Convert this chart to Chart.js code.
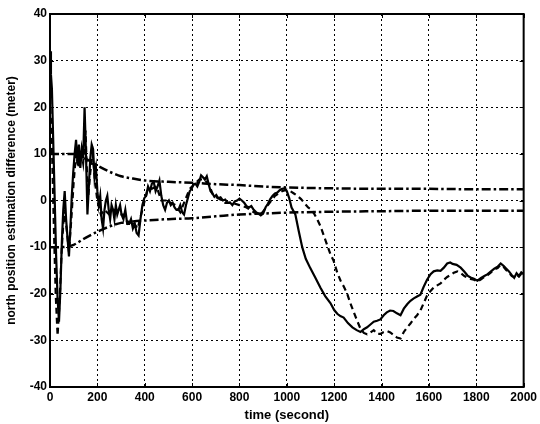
<!DOCTYPE html>
<html>
<head>
<meta charset="utf-8">
<script src="https://cdn.jsdelivr.net/npm/chart.js@4/dist/chart.umd.min.js"></script>
<style>
  html, body { margin: 0; padding: 0; background: #fff; }
  canvas { display: block; }
</style>
</head>
<body>
<canvas id="c" width="540" height="424"></canvas>
<script>
// North position estimation difference (meter) versus time (second)

const xTicks = [0, 200, 400, 600, 800, 1000, 1200, 1400, 1600, 1800, 2000];
const yTicks = [-40, -30, -20, -10, 0, 10, 20, 30, 40];

// solid curve
const solidTime = [
  0, 4, 8, 14, 20, 26, 32, 38, 44, 50, 56, 62, 68, 74, 80, 86, 92, 98, 104, 110,
  116, 122, 128, 134, 140, 146, 152, 158, 164, 170, 176, 182, 188, 194, 200, 206, 212, 218, 224, 230,
  236, 242, 248, 254, 260, 266, 272, 278, 284, 290, 296, 302, 310, 318, 326, 334, 342, 350, 358, 366,
  374, 382, 390, 398, 406, 414, 422, 430, 438, 446, 454, 462, 470, 478, 486, 494, 502, 510, 518, 526,
  534, 542, 550, 558, 566, 574, 582, 590, 598, 606, 614, 622, 630, 638, 646, 654, 662, 670, 678, 686,
  694, 702, 710, 720, 730, 740, 750, 760, 770, 780, 790, 800, 810, 820, 830, 840, 850, 860, 870, 880,
  890, 900, 910, 920, 930, 940, 950, 960, 970, 980, 990, 1000, 1010, 1020, 1036, 1050, 1065, 1080, 1099, 1120,
  1142, 1162, 1184, 1200, 1213, 1226, 1240, 1258, 1277, 1295, 1311, 1325, 1339, 1353, 1367, 1381, 1395, 1409, 1422, 1436,
  1450, 1465, 1480, 1494, 1509, 1522, 1536, 1550, 1564, 1578, 1592, 1607, 1620, 1635, 1649, 1663, 1677, 1690, 1700, 1717,
  1734, 1750, 1763, 1776, 1790, 1805, 1820, 1834, 1848, 1862, 1876, 1890, 1903, 1915, 1926, 1938, 1950, 1960, 1970, 1980,
  1990, 2000
];
const solidDiff = [
  32, 27, 24, 12, 0, -12, -21, -26, -19, -9, -2, 2, -4, -8, -12, -6, 1, 6, 10, 13,
  8, 12, 7, 11, 9, 20, 10, -3, 3, 9, 12, 11, 5, 7, 2, -1, 1, -4, -6, -2,
  0, 1, -2, -4, -1, -2, -4, -1, -3, -2, -1, -3, -4, -2, -5, -5, -4, -6, -5, -7,
  -7.5, -4, -1, 0.5, 1, 3, 2, 3.6, 4, 2, 3, 4.3, 1, -1, -2, -0.5, 0, -1, -0.5, -1.5,
  -2, -2, -1, -2.5, -3, -1, 0.5, 2, 2.5, 3.5, 3.6, 3, 4, 5.4, 5, 4.5, 5.2, 3.5, 2, 1.5,
  0.8, 1.2, 0.5, 0.7, 0, 0.2, -0.5, -0.4, -1, -0.2, 0, 0.4, 0, -0.5, -1.2, -1.5, -1.2, -2, -2.5, -2.8,
  -3.2, -2.8, -1.5, -0.7, 0.3, 1, 1.5, 1.7, 2.2, 2.5, 2.6, 2, 0.5, -1.5, -3, -6.5, -10, -12.5, -14.5, -16.5,
  -18.7, -20.5, -22, -23.5, -24.3, -24.8, -25.1, -26.3, -27.2, -27.8, -28.2, -27.6, -27.2, -26.6, -26, -25.8, -25.5, -24.6, -24, -23.6,
  -23.7, -24.2, -24.6, -23.2, -22.2, -21.5, -21, -20.6, -20.2, -18.5, -17, -15.8, -15.2, -15, -15.1, -14.4, -13.5, -13.3, -13.6, -13.8,
  -14.4, -15.3, -16.1, -16.5, -16.8, -17.2, -16.6, -16.2, -15.8, -15.2, -14.6, -14.2, -13.5, -14, -14.6, -15.2, -16, -16.6, -15.6, -16.2,
  -15.4, -15.8
];

// dashed curve
const dashedTime = [
  0, 8, 16, 24, 32, 40, 50, 60, 70, 80, 90, 100, 110, 120, 130, 140, 150, 160, 170, 180,
  190, 200, 215, 230, 250, 270, 290, 310, 330, 350, 370, 390, 410, 430, 450, 470, 490, 510, 530, 550,
  570, 590, 610, 630, 650, 670, 690, 710, 740, 770, 800, 830, 860, 890, 920, 950, 980, 1000, 1015, 1030,
  1045, 1060, 1075, 1090, 1105, 1115, 1128, 1142, 1156, 1170, 1184, 1198, 1213, 1227, 1241, 1255, 1268, 1283, 1297, 1311,
  1325, 1339, 1353, 1367, 1381, 1395, 1409, 1423, 1437, 1450, 1465, 1480, 1494, 1508, 1522, 1536, 1550, 1564, 1578, 1592,
  1607, 1621, 1635, 1649, 1663, 1677, 1691, 1705, 1720, 1735, 1750, 1763, 1776, 1790, 1805, 1820, 1834, 1848, 1862, 1876,
  1890, 1903, 1915, 1926, 1938, 1950, 1960, 1970, 1980, 1990, 2000
];
const dashedDiff = [
  22, 12, -5, -20, -29, -22, -10, -2, -6, -11, -4, 4, 10, 7, 11, 8, 15, 0, 6, 10,
  4, 0, -3, -2, -3, -2, -3, -3, -5, -4.5, -6, -2, 2, 2.5, 3, 0, 0, -0.5, -1, -2.5,
  0, 2.5, 3.5, 4.5, 4.5, 3.5, 1, 0.5, -0.5, -0.5, -1, -1.5, -2.5, -3, -1, 1, 2, 2.3, 2, 1.5,
  1, 0.3, -0.6, -1.5, -2, -2.8, -4, -5.5, -7.5, -9.5, -11.5, -13, -15.5, -17.2, -18.5, -20, -22, -24, -25.8, -27.5,
  -28.4, -28.7, -28.3, -27.8, -28.6, -28.6, -28.2, -28, -28.3, -28.8, -29.4, -29.6, -28.2, -27.2, -26.4, -25.4, -24.6, -23.6, -22, -20.4,
  -19.4, -18.6, -18.2, -17.8, -17, -16.4, -16, -15.5, -15.2, -15.6, -16.2, -16.6, -16.8, -17, -17.4, -16.9, -16.4, -16, -15.4, -14.8,
  -14.5, -13.8, -14.2, -14.9, -15.5, -16.2, -16.4, -15.9, -16.3, -15.7, -16
];

// dash-dot bounds
const boundTime = [0, 50, 100, 150, 200, 250, 300, 350, 400, 500, 600, 700, 800, 900, 1000, 1200, 1400, 1600, 1800, 2000];
const upperBound = [10, 10, 10, 9, 7.5, 6.2, 5.2, 4.7, 4.3, 4, 3.8, 3.5, 3.3, 3, 2.8, 2.6, 2.5, 2.5, 2.4, 2.4];
const lowerBound = [-10, -10, -9.5, -8, -6.7, -5.6, -4.8, -4.5, -4.3, -4, -3.8, -3.4, -3, -2.8, -2.6, -2.4, -2.3, -2.2, -2.2, -2.2];

const toPoints = (ts, vs) => ts.map((t, i) => ({ x: t, y: vs[i] }));

const FONT = '"Liberation Sans", Arial, Helvetica, sans-serif';

// frame around the plot area with short inward ticks on every side
const framePlugin = {
  id: 'frame',
  afterDatasetsDraw(chart) {
    const { ctx, chartArea: a, scales } = chart;
    ctx.save();
    ctx.strokeStyle = '#000';
    ctx.lineWidth = 1;
    ctx.setLineDash([]);
    ctx.beginPath();
    const tl = 4;
    xTicks.forEach(v => {
      const px = Math.round(scales.x.getPixelForValue(v)) + 0.5;
      ctx.moveTo(px, a.bottom); ctx.lineTo(px, a.bottom - tl);
      ctx.moveTo(px, a.top); ctx.lineTo(px, a.top + tl);
    });
    yTicks.forEach(v => {
      const py = Math.round(scales.y.getPixelForValue(v)) + 0.5;
      ctx.moveTo(a.left, py); ctx.lineTo(a.left + tl, py);
      ctx.moveTo(a.right, py); ctx.lineTo(a.right - tl, py);
    });
    ctx.stroke();
    ctx.lineWidth = 2;
    ctx.strokeRect(a.left, a.top, a.right - a.left, a.bottom - a.top);
    ctx.restore();
  }
};

new Chart(document.getElementById('c'), {
  type: 'line',
  data: {
    datasets: [
      {
        data: toPoints(boundTime, upperBound),
        borderColor: '#000', borderWidth: 2.5, borderDash: [9, 3, 2.5, 3],
        pointRadius: 0, cubicInterpolationMode: 'monotone', fill: false
      },
      {
        data: toPoints(boundTime, lowerBound),
        borderColor: '#000', borderWidth: 2.5, borderDash: [9, 3, 2.5, 3],
        pointRadius: 0, cubicInterpolationMode: 'monotone', fill: false
      },
      {
        data: toPoints(dashedTime, dashedDiff),
        borderColor: '#000', borderWidth: 2.2, borderDash: [6, 4],
        pointRadius: 0, tension: 0, fill: false
      },
      {
        data: toPoints(solidTime, solidDiff),
        borderColor: '#000', borderWidth: 2.2,
        pointRadius: 0, tension: 0, fill: false
      }
    ]
  },
  options: {
    responsive: false,
    animation: false,
    devicePixelRatio: 1,
    layout: { padding: { top: 14, right: 16, left: 0, bottom: 0 } },
    plugins: { legend: { display: false }, tooltip: { enabled: false } },
    scales: {
      x: {
        type: 'linear', min: 0, max: 2000,
        afterBuildTicks: s => { s.ticks = xTicks.map(v => ({ value: v })); },
        afterFit: s => { s.height = 37; },
        ticks: {
          color: '#000', font: { family: FONT, size: 12, weight: 'bold' }, padding: 3, maxRotation: 0,
          callback: v => String(v)
        },
        grid: { color: '#000', lineWidth: 1, drawTicks: false },
        border: { display: true, color: '#000', width: 2, dash: [2, 3] },
        title: {
          display: true, text: 'time (second)', color: '#000',
          font: { family: FONT, size: 13, weight: 'bold' }, padding: { top: 0, bottom: 1 }
        }
      },
      y: {
        type: 'linear', min: -40, max: 40,
        afterBuildTicks: s => { s.ticks = yTicks.map(v => ({ value: v })); },
        afterFit: s => { s.width = 50; },
        ticks: {
          color: '#000', font: { family: FONT, size: 12, weight: 'bold' }, padding: 3,
          callback: v => String(v)
        },
        grid: { color: '#000', lineWidth: 1, drawTicks: false },
        border: { display: true, color: '#000', width: 2, dash: [2, 3] },
        title: {
          display: true, text: 'north position estimation difference (meter)', color: '#000',
          font: { family: FONT, size: 12, weight: 'bold' }, padding: { top: 4, bottom: 0 }
        }
      }
    }
  },
  plugins: [framePlugin]
});
</script>
</body>
</html>
